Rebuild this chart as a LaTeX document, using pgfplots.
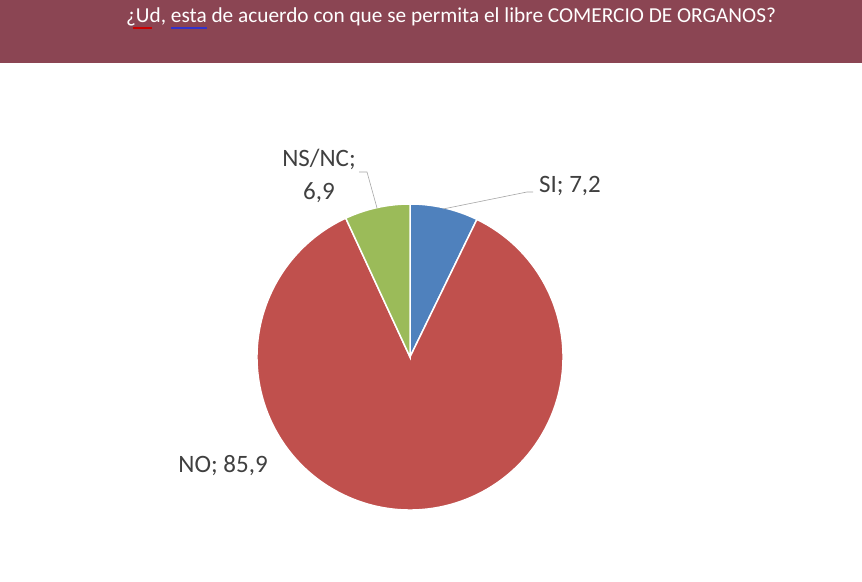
\documentclass[border=0pt]{standalone}
\usepackage{pgfplots}
\pgfplotsset{compat=1.18}
\usepackage{fontspec}
\setmainfont{Carlito}

\definecolor{band}{RGB}{139,69,83}
\definecolor{siblue}{RGB}{79,129,189}
\definecolor{nored}{RGB}{192,80,77}
\definecolor{nsgreen}{RGB}{155,187,89}
\definecolor{lbl}{RGB}{64,64,64}

\begin{document}
\begin{tikzpicture}
	\begin{axis}[
			scale only axis, width=862bp, height=582bp,
			xmin=0, xmax=862, ymin=0, ymax=582,
			hide axis, clip=false
		]
		% background and header band
		\fill[white] (axis cs:0,0) rectangle (axis cs:862,582);
		\fill[band] (axis cs:0,519) rectangle (axis cs:862,582);
		\node[white, font=\fontsize{21.3bp}{25bp}\selectfont, anchor=base]
			at (axis cs:451,559) {¿Ud, esta de acuerdo con que se permita el libre COMERCIO DE ORGANOS?};
		\draw[red!80!black, line width=1.2pt] (axis cs:133,554) -- (axis cs:152,554);
		\draw[blue!60!gray, line width=1.2pt] (axis cs:171,554) -- (axis cs:207,554);

		% pie values (percent)
		\pgfmathsetmacro{\vsi}{7.2}
		\pgfmathsetmacro{\vno}{85.9}
		\pgfmathsetmacro{\vns}{6.9}
		\pgfmathsetmacro{\tot}{\vsi+\vno+\vns}
		\pgfmathsetmacro{\aA}{90}
		\pgfmathsetmacro{\aB}{\aA-\vsi/\tot*360}
		\pgfmathsetmacro{\aC}{\aB-\vno/\tot*360}
		\pgfmathsetmacro{\aD}{\aC-\vns/\tot*360}
		\def\R{153bp}

		\filldraw[fill=siblue, draw=white, line width=1.5pt] (axis cs:410,225) -- ++(\aA:\R) arc[start angle=\aA, end angle=\aB, radius=\R] -- cycle;
		\filldraw[fill=nored, draw=white, line width=1.5pt] (axis cs:410,225) -- ++(\aB:\R) arc[start angle=\aB, end angle=\aC, radius=\R] -- cycle;
		\filldraw[fill=nsgreen, draw=white, line width=1.5pt] (axis cs:410,225) -- ++(\aC:\R) arc[start angle=\aC, end angle=\aD, radius=\R] -- cycle;

		% leader lines
		\draw[gray!70, line width=0.6pt] (axis cs:443,373) -- (axis cs:527,390) -- (axis cs:533,390);
		\draw[gray!70, line width=0.6pt] (axis cs:377,374) -- (axis cs:367,410) -- (axis cs:359,410);

		% labels
		\node[lbl, font=\fontsize{25bp}{33bp}\selectfont] at (axis cs:570,396) {SI; 7,2};
		\node[lbl, font=\fontsize{25bp}{33bp}\selectfont, align=center] at (axis cs:319,406) {NS/NC;\\6,9};
		\node[lbl, font=\fontsize{25bp}{33bp}\selectfont] at (axis cs:223,116) {NO; 85,9};
	\end{axis}
\end{tikzpicture}
\end{document}
